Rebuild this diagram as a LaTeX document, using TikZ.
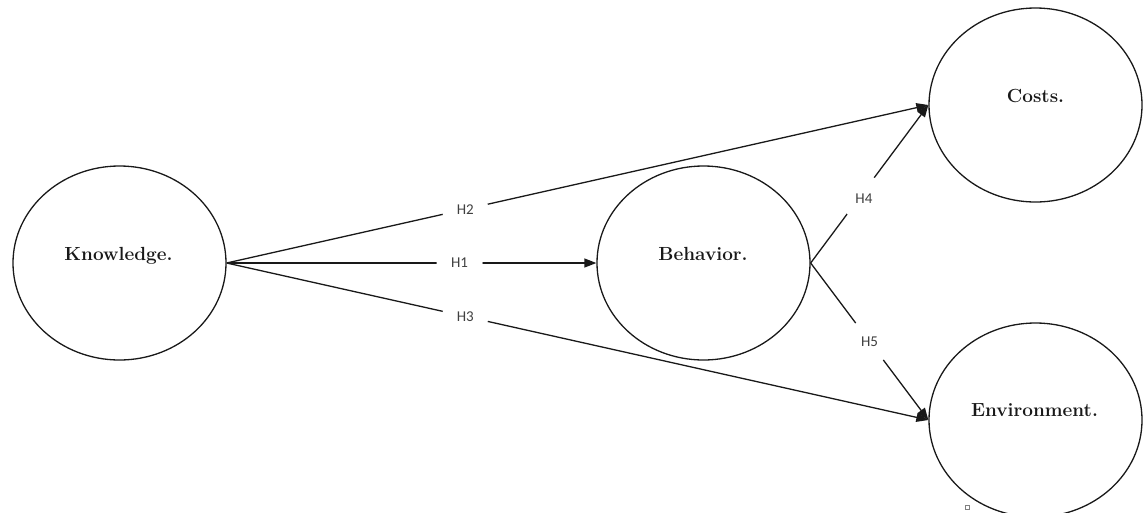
\documentclass[tikz,border=0pt]{standalone}
\usepackage{fontspec}
\newfontfamily\labfont{Carlito}
\usetikzlibrary{arrows.meta,shapes.geometric}
\begin{document}
\begin{tikzpicture}[x=1pt,y=-1pt,
  construct/.style={ellipse,draw=black!90,line width=1.3pt,inner sep=0pt,minimum width=213pt,minimum height=194pt},
  ctext/.style={anchor=base,font=\fontsize{19}{22}\selectfont\bfseries,text=black!90,inner sep=0pt},
  arr/.style={line width=1.3pt,draw=black!90,-{Triangle[length=12pt,width=9pt]}},
  lab/.style={circle,fill=white,inner sep=0pt,minimum size=46pt,font=\labfont\fontsize{15}{17}\selectfont,text=black!75}]
\useasboundingbox (0,0) rectangle (1146,512);
\clip (0,0) rectangle (1146,512);
\node[construct] (k) at (119.5,263) {};
\node[construct] (b) at (703.5,263) {};
\node[construct] (c) at (1035.5,105) {};
\node[construct] (e) at (1035.5,420) {};
\node[ctext] (kt) at (118.5,260) {Knowledge.};
\node[ctext] (bt) at (703,260) {Behavior.};
\node[ctext] (ct) at (1035.5,102) {Costs.};
\node[ctext] (et) at (1034.5,416) {Environment.};
\draw[arr] (k.east) -- node[lab,pos=0.63] (h1) {H1} (b.west);
\draw[arr] (k.east) -- node[lab,pos=0.34] (h2) {H2} (c.west);
\draw[arr] (k.east) -- node[lab,pos=0.34] (h3) {H3} (e.west);
\draw[arr] (b.east) -- node[lab,pos=0.41,xshift=5pt] (h4) {H4} (c.west);
\draw[arr] (b.east) -- node[lab,pos=0.5] (h5) {H5} (e.west);
\node[draw=black!50,line width=0.5pt,inner sep=0pt,minimum size=4pt] (sq) at (967,507) {};
\end{tikzpicture}
\end{document}
